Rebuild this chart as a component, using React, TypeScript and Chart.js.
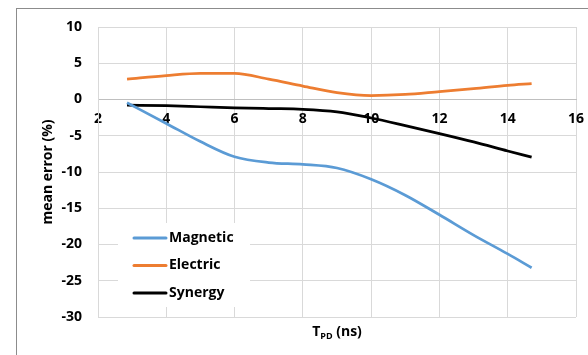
import React, { useEffect, useRef } from "react";
import { Chart, registerables } from "chart.js";

Chart.register(...registerables);

// Propagation delay (ns) sampled along each curve
const T_PD = [2.85, 4, 5, 6, 7, 8, 9, 10, 11, 12, 13, 14, 14.7];
const MAGNETIC = [-0.45, -3.3, -5.8, -7.9, -8.7, -8.95, -9.45, -11.0, -13.2, -15.9, -18.7, -21.3, -23.2];
const ELECTRIC = [2.8, 3.3, 3.6, 3.6, 2.8, 1.85, 0.95, 0.55, 0.7, 1.1, 1.5, 1.95, 2.2];
const SYNERGY = [-0.77, -0.86, -1.0, -1.14, -1.25, -1.35, -1.7, -2.55, -3.6, -4.7, -5.85, -7.1, -7.95];

const SERIES_NAMES = ["Magnetic", "Electric", "Synergy"];
const SERIES_COLORS = ["#5b9bd5", "#ed7d31", "#000000"];

const X_MIN = 2;
const X_MAX = 16;
const X_STEP = 2;
const Y_MIN = -30;
const Y_MAX = 10;
const Y_STEP = 5;

const FONT = "'Open Sans', 'Liberation Sans', sans-serif";
const FONT_SIZE = 14;

// Axis titles drawn by hand so that T can carry its "PD" subscript
const axisTitles = {
  id: "axisTitles",
  afterDraw(chart: any) {
    const { ctx, chartArea } = chart;
    ctx.save();
    ctx.fillStyle = "#000";
    ctx.textBaseline = "middle";

    // y title
    ctx.save();
    ctx.translate(48, (chartArea.top + chartArea.bottom) / 2);
    ctx.rotate(-Math.PI / 2);
    ctx.textAlign = "center";
    ctx.font = `bold ${FONT_SIZE}px ${FONT}`;
    ctx.fillText("mean error (%)", 0, 0);
    ctx.restore();

    // x title: T_PD (ns)
    const main = `bold ${FONT_SIZE}px ${FONT}`;
    const sub = `bold 9px ${FONT}`;
    ctx.font = main;
    const wT = ctx.measureText("T").width;
    const wRest = ctx.measureText(" (ns)").width;
    ctx.font = sub;
    const wSub = ctx.measureText("PD").width;
    const total = wT + wSub + wRest;
    const cx = (chartArea.left + chartArea.right) / 2;
    const y = chartArea.bottom + 15;
    let x = cx - total / 2;
    ctx.textAlign = "left";
    ctx.font = main;
    ctx.fillText("T", x, y);
    x += wT;
    ctx.font = sub;
    ctx.fillText("PD", x, y + 4);
    x += wSub;
    ctx.font = main;
    ctx.fillText(" (ns)", x, y);
    ctx.restore();
  },
};

// Legend box placed inside the plot area, lower left
const insideLegend = {
  id: "insideLegend",
  afterDatasetsDraw(chart: any) {
    const { ctx, chartArea } = chart;
    const boxX = chartArea.left + 20;
    const boxY = chartArea.bottom - 94;
    const boxW = 132;
    const boxH = 84;
    ctx.save();
    ctx.fillStyle = "#ffffff";
    ctx.fillRect(boxX, boxY, boxW, boxH);
    ctx.font = `bold ${FONT_SIZE}px ${FONT}`;
    ctx.textBaseline = "middle";
    ctx.textAlign = "left";
    chart.data.datasets.forEach((ds: any, i: number) => {
      const rowY = boxY + 15 + i * 27.5;
      ctx.strokeStyle = ds.borderColor;
      ctx.lineWidth = 3;
      ctx.lineCap = "round";
      ctx.beginPath();
      ctx.moveTo(boxX + 16, rowY);
      ctx.lineTo(boxX + 48, rowY);
      ctx.stroke();
      ctx.fillStyle = "#000";
      ctx.fillText(ds.label, boxX + 51, rowY);
    });
    ctx.restore();
  },
};

export default function App() {
  const canvasRef = useRef<HTMLCanvasElement | null>(null);

  useEffect(() => {
    const canvas = canvasRef.current;
    if (!canvas) return;
    const seriesValues = [MAGNETIC, ELECTRIC, SYNERGY];
    const chart = new Chart(canvas, {
      type: "line",
      data: {
        datasets: seriesValues.map((vals, i) => ({
          label: SERIES_NAMES[i],
          data: vals.map((v, j) => ({ x: T_PD[j], y: v })),
          borderColor: SERIES_COLORS[i],
          backgroundColor: SERIES_COLORS[i],
          borderWidth: 2.75,
          pointRadius: 0,
          cubicInterpolationMode: "monotone" as const,
          fill: false,
        })),
      },
      options: {
        animation: false,
        responsive: false,
        devicePixelRatio: 1,
        layout: { padding: { left: 0, top: 27, right: 12, bottom: 38 } },
        plugins: {
          legend: { display: false },
          tooltip: { enabled: false },
        },
        scales: {
          x: {
            type: "linear",
            position: { y: 0 } as any,
            min: X_MIN,
            max: X_MAX,
            afterFit(scale: any) {
              scale.paddingLeft = 0;
              scale.paddingRight = 0;
            },
            ticks: {
              stepSize: X_STEP,
              color: "#000",
              padding: 11,
              font: { family: FONT, size: FONT_SIZE, weight: "bold" },
              maxRotation: 0,
            },
            grid: { color: "#d9d9d9", lineWidth: 1, drawTicks: false },
            border: { display: true, color: "#bfbfbf", width: 1 },
          },
          y: {
            type: "linear",
            min: Y_MIN,
            max: Y_MAX,
            afterFit(scale: any) {
              scale.width = 98;
            },
            ticks: {
              stepSize: Y_STEP,
              color: "#000",
              padding: 16,
              font: { family: FONT, size: FONT_SIZE, weight: "bold" },
            },
            grid: { color: "#d9d9d9", lineWidth: 1, drawTicks: false },
            border: { display: true, color: "#d9d9d9", width: 1 },
          },
        },
      },
      plugins: [axisTitles, insideLegend],
    });
    return () => chart.destroy();
  }, []);

  return (
    <div
      style={{
        position: "fixed",
        left: 0,
        top: 0,
        width: 588,
        height: 355,
        overflow: "hidden",
        background: "#fff",
      }}
    >
      <div
        style={{
          position: "absolute",
          left: 16,
          top: 8,
          width: 620,
          height: 400,
          border: "1px solid #8c8c8c",
        }}
      />
      <canvas
        ref={canvasRef}
        width={588}
        height={355}
        style={{ position: "absolute", left: 0, top: 0, width: 588, height: 355 }}
      />
    </div>
  );
}
